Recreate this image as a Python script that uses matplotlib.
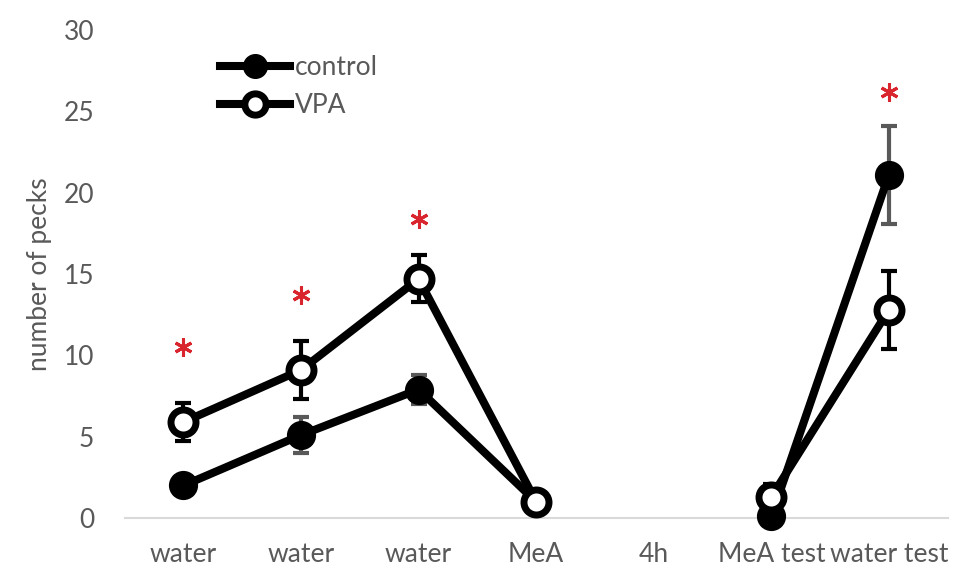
import numpy as np
import matplotlib.pyplot as plt

plt.rcParams['font.family'] = ['Lato', 'DejaVu Sans']

categories = ['water', 'water', 'water', 'MeA', '4h', 'MeA test', 'water test']
control = [2.0, 5.1, 7.9, 1.0, np.nan, 0.1, 21.1]
control_err = [0.3, 1.1, 0.9, 0.2, np.nan, 0.3, 3.0]
vpa = [5.9, 9.1, 14.7, 1.0, np.nan, 1.3, 12.8]
vpa_err = [1.15, 1.8, 1.45, 0.2, np.nan, 0.8, 2.4]
star_y = [10.5, 13.7, 18.4, np.nan, np.nan, np.nan, 26.2]

grey = '#595959'
x = np.arange(len(categories))

fig = plt.figure(figsize=(9.74, 5.85), dpi=100)
ax = fig.add_axes([0.128, 0.1145, 0.845, 0.8342])

ax.errorbar(x, control, yerr=control_err, fmt='none', ecolor=grey,
            elinewidth=3, capsize=5.5, capthick=3, zorder=2)
ax.errorbar(x, vpa, yerr=vpa_err, fmt='none', ecolor='black',
            elinewidth=3, capsize=5.5, capthick=3, zorder=2)

ax.plot(x, control, color='black', lw=5.8, marker='o', markersize=20,
        markerfacecolor='black', markeredgecolor='black', label='control',
        zorder=3, clip_on=False)
ax.plot(x, vpa, color='black', lw=5.8, marker='o', markersize=18,
        markerfacecolor='white', markeredgecolor='black', markeredgewidth=5,
        label='VPA', zorder=4, clip_on=False)

# significance stars
ax.plot(x, star_y, linestyle='none', marker=(6, 2, 0), markersize=13,
        markeredgewidth=2.2, color='#d9262e', zorder=5)

ax.set_xlim(-0.5, 6.5)
ax.set_ylim(0, 30)
ax.set_yticks(range(0, 31, 5))
ax.set_xticks(x)
ax.set_xticklabels(categories)
ax.tick_params(length=0, labelsize=19, labelcolor=grey, pad=17)
ax.tick_params(axis='y', pad=22)
for s in ['top', 'right', 'left']:
    ax.spines[s].set_visible(False)
ax.spines['bottom'].set_color('#d9d9d9')
ax.spines['bottom'].set_linewidth(1.5)
ax.set_ylabel('number of pecks', fontsize=19, color=grey, labelpad=8)

leg = ax.legend(loc='upper left', bbox_to_anchor=(0.103, 0.97), frameon=False,
                fontsize=19, handlelength=2.65, handletextpad=0.2,
                labelspacing=0.5, markerscale=0.85, borderaxespad=0)
for t in leg.get_texts():
    t.set_color(grey)

fig.savefig('out.png', dpi=100)
